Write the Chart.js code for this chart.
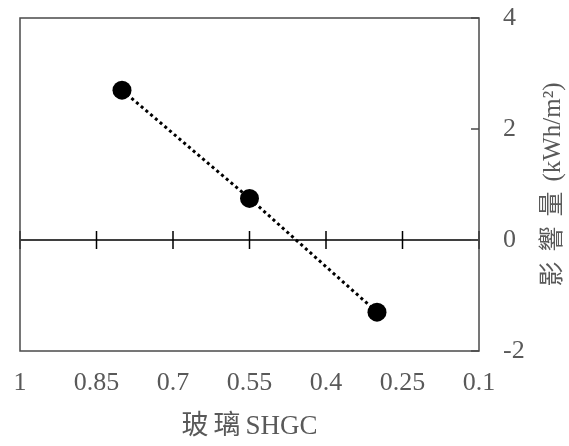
<!DOCTYPE html>
<html><head><meta charset="utf-8">
<script src="https://cdn.jsdelivr.net/npm/chart.js@4"></script>
<style>html,body{margin:0;padding:0;background:#fff;overflow:hidden}</style>
</head><body>
<canvas id="c" width="569" height="446" style="width:569px;height:446px"></canvas>
<script>
const xValues = [0.8, 0.55, 0.3];
const yValues = [2.7, 0.75, -1.3];
const xTickValues = [1, 0.85, 0.7, 0.55, 0.4, 0.25, 0.1];
const yTickValues = [4, 2, 0, -2];
const xTitleCJK = '玻璃';
const xTitleLatin = 'SHGC';
const yTitleCJK = '影響量';
const yTitleLatin = '(kWh/m²)';

const FONT = '"Liberation Serif", "Noto Sans CJK TC", serif';
const TEXT_COLOR = '#595959';

function drawSegments(ctx, segs, cx, cy) {
  let total = 0;
  segs.forEach(s => {
    ctx.font = s.font;
    ctx.letterSpacing = s.spacing + 'px';
    s.w = ctx.measureText(s.text).width;
    total += s.w;
  });
  let x = cx - total / 2;
  ctx.textAlign = 'left';
  ctx.textBaseline = 'middle';
  segs.forEach(s => {
    ctx.font = s.font;
    ctx.letterSpacing = s.spacing + 'px';
    ctx.fillText(s.text, x, cy);
    x += s.w;
  });
  ctx.letterSpacing = '0px';
}

const framePlugin = {
  id: 'frame',
  beforeDatasetsDraw(chart) {
    const {ctx, chartArea: a, scales: {x, y}} = chart;
    ctx.save();
    const y0 = y.getPixelForValue(0);
    ctx.strokeStyle = '#000';
    ctx.lineWidth = 1.5;
    ctx.beginPath();
    ctx.moveTo(a.left, y0); ctx.lineTo(a.right, y0);
    xTickValues.forEach(v => {
      const px = x.getPixelForValue(v);
      ctx.moveTo(px, y0 - 9); ctx.lineTo(px, y0 + 9);
    });
    ctx.stroke();
    ctx.strokeStyle = '#4a4a4a';
    ctx.beginPath();
    yTickValues.forEach(v => {
      const py = y.getPixelForValue(v);
      ctx.moveTo(a.right - 8, py); ctx.lineTo(a.right, py);
    });
    ctx.stroke();
    ctx.lineWidth = 1.5;
    ctx.strokeRect(a.left, a.top, a.right - a.left, a.bottom - a.top);
    ctx.restore();
  },
  afterDraw(chart) {
    const {ctx, chartArea: a} = chart;
    ctx.save();
    ctx.fillStyle = TEXT_COLOR;
    drawSegments(ctx, [
      {text: xTitleCJK, font: '27px ' + FONT, spacing: 5},
      {text: xTitleLatin, font: '27px ' + FONT, spacing: 0}
    ], (a.left + a.right) / 2, 427);
    ctx.translate(553, (a.top + a.bottom) / 2);
    ctx.rotate(-Math.PI / 2);
    drawSegments(ctx, [
      {text: yTitleCJK, font: '25px ' + FONT, spacing: 10},
      {text: yTitleLatin, font: '25px ' + FONT, spacing: 0}
    ], 0, 0);
    ctx.restore();
  }
};

new Chart(document.getElementById('c'), {
  type: 'scatter',
  data: {
    datasets: [{
      data: xValues.map((v, i) => ({x: v, y: yValues[i]})),
      showLine: true,
      borderColor: '#000',
      borderWidth: 3,
      borderDash: [3, 3.2],
      pointRadius: 9.5,
      pointHoverRadius: 9.5,
      pointBackgroundColor: '#000',
      pointBorderColor: '#000',
      pointBorderWidth: 0
    }]
  },
  options: {
    responsive: false,
    devicePixelRatio: 1,
    animation: false,
    layout: {padding: {left: 20, top: 18, right: 0, bottom: 0}},
    plugins: {legend: {display: false}, tooltip: {enabled: false}},
    scales: {
      x: {
        type: 'linear',
        min: 0.1, max: 1,
        reverse: true,
        grid: {display: false, drawTicks: false, tickLength: 0},
        border: {display: false},
        afterBuildTicks: s => { s.ticks = xTickValues.map(v => ({value: v})); },
        afterFit: s => { s.height = 95; s.paddingLeft = 0; s.paddingRight = 0; },
        ticks: {
          autoSkip: false,
          maxRotation: 0,
          padding: 17,
          color: TEXT_COLOR,
          font: {family: FONT, size: 26},
          callback: v => String(+Number(v).toFixed(2))
        }
      },
      y: {
        type: 'linear',
        position: 'right',
        min: -2, max: 4,
        grid: {display: false, drawTicks: false, tickLength: 0},
        border: {display: false},
        afterBuildTicks: s => { s.ticks = yTickValues.map(v => ({value: v})); },
        afterFit: s => { s.width = 90; s.paddingTop = 0; s.paddingBottom = 0; },
        ticks: {
          padding: 24,
          color: TEXT_COLOR,
          font: {family: FONT, size: 26},
          callback: v => String(v)
        }
      }
    }
  },
  plugins: [framePlugin]
});
</script>
</body></html>
